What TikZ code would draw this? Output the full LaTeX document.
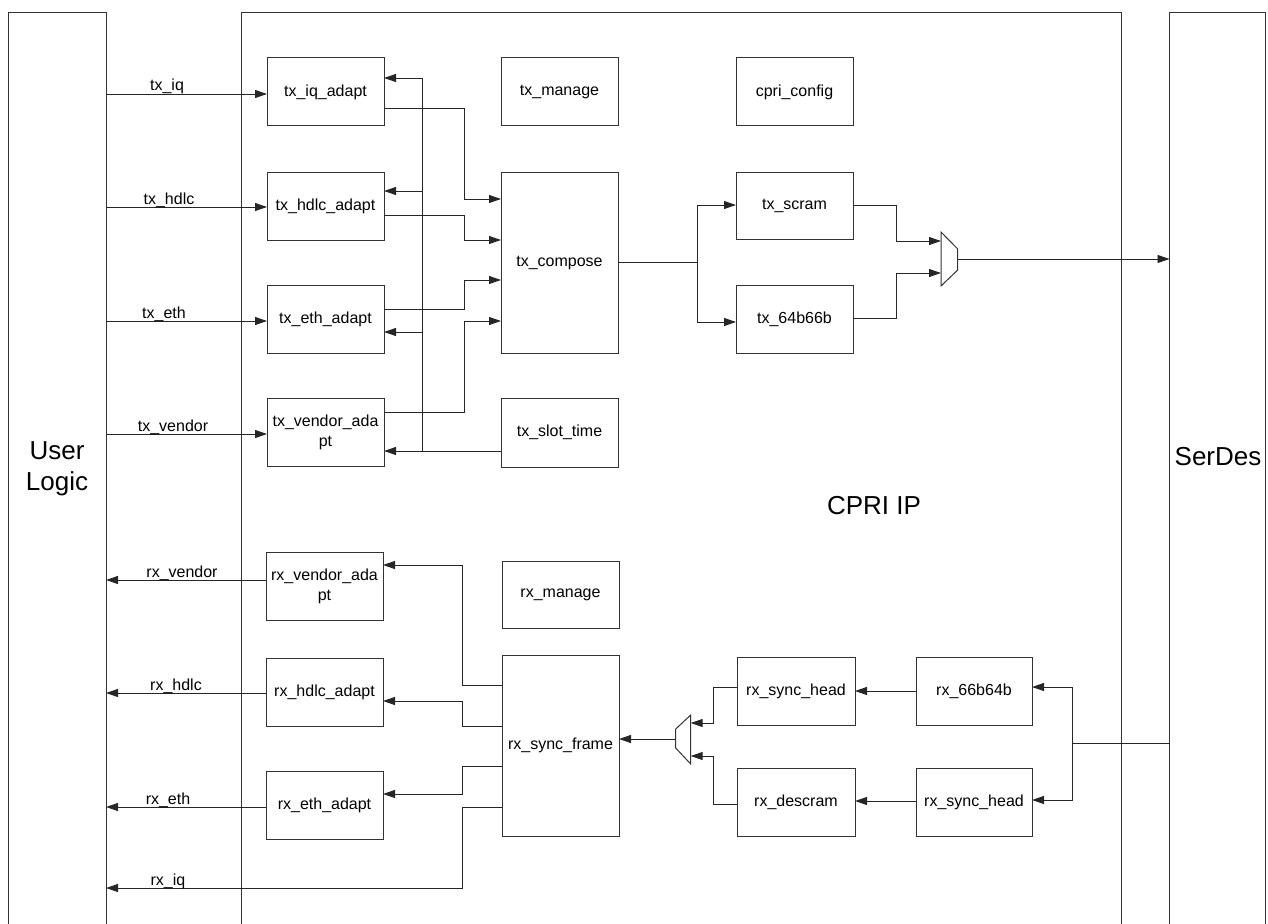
\documentclass[tikz,border=0pt]{standalone}
\usepackage{fontspec}
\setmainfont{Liberation Sans}
\usetikzlibrary{arrows.meta}
\tikzset{
  box/.style={draw=black!80, line width=1pt, fill=white, inner sep=0pt, outer sep=0pt,
    align=center, font=\fontsize{16}{20}\selectfont},
  bigbox/.style={draw=black!80, line width=1pt, inner sep=0pt, outer sep=0pt},
  bigtxt/.style={inner sep=0pt, align=center, font=\fontsize{26}{31}\selectfont},
  lbl/.style={inner sep=0pt, anchor=base, font=\fontsize{16}{20}\selectfont},
  wire/.style={draw=black!85, line width=0.95pt},
  arr/.style={wire, -{Triangle[length=12pt,width=8pt]}},
  muxs/.style={draw=black!80, line width=1pt, fill=white},
}
\newcommand\blk[6]{\node[box, minimum width={#4-#2}, minimum height={#5-#3}] (#1) at ({(#2+#4)/2},{(#3+#5)/2}) {#6};}
\begin{document}
\begin{tikzpicture}[x=1pt,y=-1pt]
\useasboundingbox (0,0) rectangle (1268,923);
% outer blocks
\node[bigbox, minimum width=98, minimum height=960] (ul) at (57,493) {};
\node[bigbox, minimum width=880, minimum height=960] (ip) at (681,493) {};
\node[bigbox, minimum width=96, minimum height=960] (sd) at (1217.5,493) {};
\node[bigtxt] (ultxt) at (57,469) {User\\Logic};
\node[bigtxt] (iptxt) at (874,506) {CPRI IP};
\node[bigtxt] (sdtxt) at (1218,457) {SerDes};
% inner blocks
\blk{txiq}{267}{58}{384}{126}{tx\_iq\_adapt}
\blk{txhdlc}{267}{172}{384}{240}{tx\_hdlc\_adapt}
\blk{txeth}{267}{285}{384}{353}{tx\_eth\_adapt}
\blk{txvend}{267}{398}{384}{466}{tx\_vendor\_ada\\pt}
\blk{txman}{501}{58}{618}{126}{tx\_manage}
\blk{txcomp}{501}{172}{618}{353}{tx\_compose}
\blk{txslot}{501}{398}{618}{467}{tx\_slot\_time}
\blk{cfg}{736}{58}{853}{126}{cpri\_config}
\blk{txscram}{736}{172}{853}{239}{tx\_scram}
\blk{txsix}{736}{285}{853}{353}{tx\_64b66b}
\blk{rxvend}{266}{552}{383}{620}{rx\_vendor\_ada\\pt}
\blk{rxhdlc}{266}{658}{383}{726}{rx\_hdlc\_adapt}
\blk{rxeth}{266}{771}{383}{839}{rx\_eth\_adapt}
\blk{rxman}{502}{561}{619}{628}{rx\_manage}
\blk{rxsf}{502}{655}{619}{836}{rx\_sync\_frame}
\blk{rxshA}{737}{657}{855}{725}{rx\_sync\_head}
\blk{rxsix}{916}{657}{1032}{725}{rx\_66b64b}
\blk{rxdesc}{737}{768}{855}{836}{rx\_descram}
\blk{rxshB}{916}{768}{1032}{836}{rx\_sync\_head}
% muxes
\draw[muxs] (941,232) -- (957.7,249) -- (957.7,270) -- (941,286) -- cycle;
\coordinate (txmuxA) at (941,241);
\coordinate (txmuxB) at (941,273);
\coordinate (txmuxO) at (957.7,259);
\draw[muxs] (690.7,715) -- (675.7,729) -- (675.7,748) -- (690.7,764) -- cycle;
\coordinate (rxmuxA) at (690.7,723);
\coordinate (rxmuxB) at (690.7,756);
\coordinate (rxmuxO) at (675.7,739);
% tx inputs
\draw[arr] (ul.east |- 0,94) -- (txiq.west |- 0,94);
\draw[arr] (ul.east |- 0,207) -- (txhdlc.west |- 0,207);
\draw[arr] (ul.east |- 0,321) -- (txeth.west |- 0,321);
\draw[arr] (ul.east |- 0,434) -- (txvend.west |- 0,434);
\node[lbl] (ltxiq) at (167,91) {tx\_iq};
\node[lbl] (ltxhdlc) at (169,204) {tx\_hdlc};
\node[lbl] (ltxeth) at (164,318) {tx\_eth};
\node[lbl] (ltxvend) at (173,431) {tx\_vendor};
% feedback bus from tx_slot_time
\coordinate (busB) at (422,451);
\coordinate (busT) at (422,78);
\draw[arr] (txslot.west |- 0,451) -- (txvend.east |- 0,451);
\draw[arr] (busB) -- (busT) -- (txiq.east |- busT);
\draw[arr] (busB |- 0,191) -- (txhdlc.east |- 0,191);
\draw[arr] (busB |- 0,332) -- (txeth.east |- 0,332);
% adapters to tx_compose
\draw[arr] (txiq.east |- 0,108) -| (464,199) -- (txcomp.west |- 0,199);
\draw[arr] (txhdlc.east |- 0,215) -| (464,240) -- (txcomp.west |- 0,240);
\draw[arr] (txeth.east |- 0,309) -| (464,280) -- (txcomp.west |- 0,280);
\draw[arr] (txvend.east |- 0,412) -| (464,321) -- (txcomp.west |- 0,321);
% compose to scram / 64b66b
\coordinate (split) at (697,262);
\draw[arr] (txcomp.east |- split) -- (split) |- (txscram.west |- 0,205);
\draw[arr] (split) |- (txsix.west |- 0,322);
\draw[arr] (txscram.east |- 0,205) -| (896,241) -- (txmuxA);
\draw[arr] (txsix.east |- 0,318) -| (896,273) -- (txmuxB);
\draw[arr] (txmuxO) -- (sd.west |- txmuxO);
% rx from serdes
\coordinate (rsplit) at (1072,743);
\draw[wire] (sd.west |- rsplit) -- (rsplit);
\draw[arr] (rsplit) |- (rxsix.east |- 0,687);
\draw[arr] (rsplit) |- (rxshB.east |- 0,800);
\draw[arr] (rxsix.west |- 0,691) -- (rxshA.east |- 0,691);
\draw[arr] (rxshB.west |- 0,801) -- (rxdesc.east |- 0,801);
\draw[arr] (rxshA.west |- 0,687) -| (713,723) -- (rxmuxA);
\draw[arr] (rxdesc.west |- 0,804) -| (713,756) -- (rxmuxB);
\draw[arr] (rxmuxO) -- (rxsf.east |- rxmuxO);
% rx_sync_frame to adapters
\draw[arr] (rxsf.west |- 0,685) -| (462,565) -- (rxvend.east |- 0,565);
\draw[arr] (rxsf.west |- 0,726) -| (462,701) -- (rxhdlc.east |- 0,701);
\draw[arr] (rxsf.west |- 0,766) -| (462,794) -- (rxeth.east |- 0,794);
\draw[arr] (rxsf.west |- 0,807) -| (462,888) -- (ul.east |- 0,888);
% rx outputs
\draw[arr] (rxvend.west |- 0,580) -- (ul.east |- 0,580);
\draw[arr] (rxhdlc.west |- 0,693) -- (ul.east |- 0,693);
\draw[arr] (rxeth.west |- 0,807) -- (ul.east |- 0,807);
\node[lbl] (lrxvend) at (182,577) {rx\_vendor};
\node[lbl] (lrxhdlc) at (176,690) {rx\_hdlc};
\node[lbl] (lrxeth) at (168,804) {rx\_eth};
\node[lbl] (lrxiq) at (168,885) {rx\_iq};
\end{tikzpicture}
\end{document}
